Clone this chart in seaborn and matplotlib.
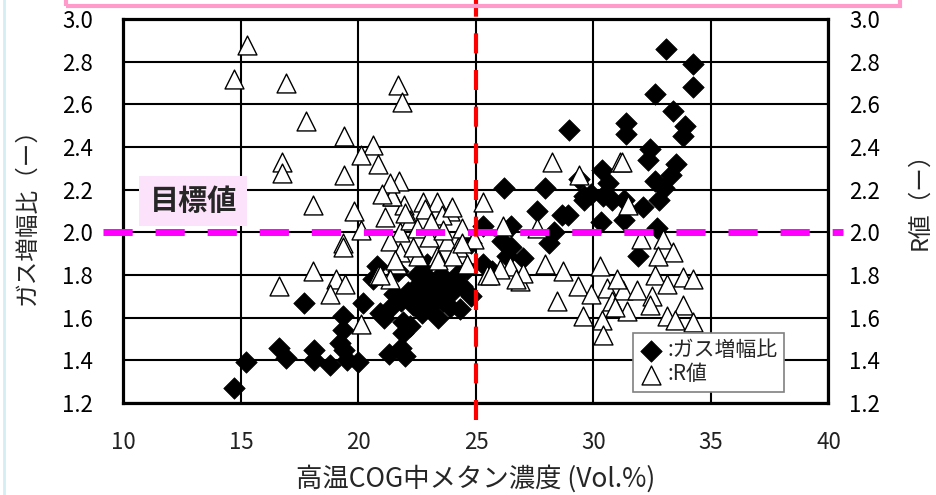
import matplotlib
matplotlib.use('Agg')
import matplotlib.pyplot as plt
import matplotlib.patches as mpatches
import matplotlib.lines as mlines
import seaborn as sns

# ガス増幅比 (black diamonds)
gas_x = [14.7, 15.2, 16.6, 16.9, 17.7, 18.1, 18.1, 18.8, 19.2, 19.4, 19.35, 19.35,
         19.5, 20.0, 20.2, 20.77, 20.6, 20.9, 21.3, 21.8, 21.9, 21.5, 21.4, 21.1,
         21.9, 22.0,
         21.8, 22.1, 22.3, 22.5, 22.7, 22.8, 23.0, 23.1, 23.3, 23.5, 23.6, 23.8,
         24.0, 24.2, 24.4, 24.6, 24.3, 23.4, 22.5, 21.7, 22.9, 24.8, 25.3, 25.3,
         24.8, 23.9, 22.2,
         26.1, 26.5, 26.3, 27.0, 26.2, 26.5, 27.6, 27.95, 28.1, 28.3, 28.65, 28.97,
         28.9, 29.4, 29.6, 29.6, 30.35, 30.6, 30.4, 30.8, 30.3, 31.3, 31.4, 31.4,
         31.9, 32.1, 32.4, 32.3, 32.6, 32.7, 32.8, 33.0, 33.3, 33.5, 33.4, 33.9,
         33.8, 33.1, 34.25, 34.25, 32.6, 31.3, 29.9, 25.7]
gas_y = [1.27, 1.39, 1.46, 1.41, 1.67, 1.45, 1.40, 1.38, 1.48, 1.45, 1.54, 1.61,
         1.40, 1.39, 1.67, 1.84, 1.78, 1.62, 1.43, 1.46, 1.53, 1.71, 1.65, 1.60,
         1.58, 1.42,
         1.68, 1.72, 1.66, 1.75, 1.62, 1.70, 1.78, 1.66, 1.73, 1.80, 1.68, 1.76,
         1.72, 1.80, 1.75, 1.83, 1.64, 1.60, 1.80, 1.82, 1.85, 1.95, 2.03, 1.85,
         1.70, 1.65, 1.56,
         1.96, 1.93, 1.89, 1.88, 2.21, 2.03, 2.10, 2.21, 1.95, 2.00, 2.08, 2.48,
         2.08, 2.25, 2.17, 2.15, 2.29, 2.23, 2.17, 2.15, 2.05, 2.06, 2.51, 2.46,
         1.89, 2.12, 2.39, 2.34, 2.24, 2.02, 2.15, 2.21, 2.27, 2.32, 2.57, 2.50,
         2.45, 2.86, 2.79, 2.68, 2.65, 2.15, 2.18, 1.82]

# R値 (open triangles)
r_x = [15.24, 14.72, 16.91, 21.67, 21.87, 17.75, 19.40, 20.63, 20.11, 20.82, 16.73, 16.73,
       19.40, 21.74, 18.08, 19.82, 21.43, 21.94, 22.76, 23.33, 21.13, 20.11, 21.77, 19.35,
       19.35, 21.34, 21.77, 22.55, 23.33, 21.63, 18.08, 20.82, 21.34, 16.62, 19.04, 19.43,
       18.79, 20.11,
       21.41, 22.83, 23.89, 25.31, 22.19, 23.54, 23.75, 24.25, 23.40, 24.03, 21.55, 20.91,
       24.60, 25.46, 21.34, 22.5, 23.0, 24.4, 22.3, 23.1, 24.0, 22.0, 21.0, 24.9,
       24.4, 23.6,
       28.22, 31.13, 29.40, 31.48, 26.16, 27.58, 27.94, 28.72, 26.45, 26.02, 25.60, 26.87,
       29.35, 28.43, 30.28, 30.56, 30.77, 31.27, 31.41, 29.57, 30.35, 30.42, 31.84, 31.20,
       32.04, 32.97, 33.40, 32.76, 32.62, 33.11, 33.82, 34.25, 32.48, 32.40, 33.82, 33.11,
       33.47, 34.25, 30.9, 31.0, 29.9, 27.0, 26.7]
r_y = [2.88, 2.72, 2.70, 2.69, 2.61, 2.52, 2.45, 2.41, 2.36, 2.32, 2.33, 2.28,
       2.27, 2.24, 2.13, 2.10, 2.17, 2.13, 2.14, 2.14, 2.07, 2.01, 2.00, 1.95,
       1.93, 1.96, 1.91, 1.89, 1.89, 1.85, 1.82, 1.80, 1.78, 1.75, 1.78, 1.76,
       1.71, 1.57,
       2.17, 2.11, 2.10, 2.14, 2.06, 2.08, 1.96, 1.93, 1.87, 1.89, 1.87, 1.80,
       1.85, 1.80, 2.23, 2.02, 1.98, 2.02, 1.93, 2.05, 2.12, 2.09, 2.18, 1.97,
       1.95, 2.01,
       2.33, 2.33, 2.27, 2.13, 2.03, 2.02, 1.85, 1.82, 1.84, 1.83, 1.80, 1.77,
       1.75, 1.68, 1.84, 1.74, 1.68, 1.73, 1.63, 1.61, 1.59, 1.52, 1.73, 2.33,
       1.97, 1.97, 1.91, 1.89, 1.80, 1.76, 1.79, 1.78, 1.70, 1.66, 1.66, 1.61,
       1.59, 1.58, 1.65, 1.78, 1.71, 1.81, 1.78]

x_ticks = [10, 15, 20, 25, 30, 35, 40]
y_ticks = [1.2, 1.4, 1.6, 1.8, 2.0, 2.2, 2.4, 2.6, 2.8, 3.0]
target = 2.0      # 目標値
boundary = 25     # vertical red line

sns.set_theme(style='white')
plt.rcParams['font.family'] = ['Noto Sans CJK JP', 'DejaVu Sans']

fig = plt.figure(figsize=(9.36, 4.95), dpi=100)
ax = fig.add_axes([0.1319, 0.1859, 0.7532, 0.7758])

sns.scatterplot(x=gas_x, y=gas_y, marker='D', s=120, color='black',
                edgecolor='black', linewidth=0.5, label=':ガス増幅比', ax=ax, zorder=3)
sns.scatterplot(x=r_x, y=r_y, marker='^', s=185, color='white',
                edgecolor='black', linewidth=1.0, label=':R値', ax=ax, zorder=4)

ax.set_xlim(10, 40)
ax.set_ylim(1.2, 3.0)
ax.set_xticks(x_ticks)
ax.set_yticks(y_ticks)
ax.set_yticklabels([f'{v:.1f}' for v in y_ticks])
ax.grid(True, color='black', lw=1.5)
ax.set_axisbelow(True)
for sp in ax.spines.values():
    sp.set_color('black')
    sp.set_linewidth(2.3)
ax.tick_params(axis='y', length=0, pad=22, labelsize=16, labelcolor='black')
ax.tick_params(axis='x', length=0, pad=20, labelsize=16, labelcolor='#222222')

# reference lines
ax.axhline(target, xmin=-0.029, xmax=1.02, color='#FF00FF', lw=5,
           dashes=(4.2, 3.3), clip_on=False, zorder=5)
ax.axvline(boundary, ymin=-0.045, ymax=1.05, color='#FF0000', lw=3,
           dashes=(4.8, 4.0), clip_on=False, zorder=6)

ax.text(0.099, 0.526, '目標値', transform=ax.transAxes, fontsize=21,
        fontweight='bold', ha='center', va='center', zorder=7,
        bbox=dict(boxstyle='square,pad=0.35', fc='#FCE2FA', ec='none'))

ax.set_xlabel('高温COG中メタン濃度 (Vol.%)', fontsize=19)
ax.xaxis.set_label_coords(0.5, -0.197)
ax.xaxis.label.set_va('center')
ax.set_ylabel('ガス増幅比（ー）', fontsize=17)
ax.yaxis.set_label_coords(-0.137, 0.5)
ax.yaxis.label.set_va('center')

leg = ax.legend(loc='upper left', bbox_to_anchor=(0.7227, 0.182), borderaxespad=0,
                frameon=True, fancybox=False, edgecolor='#808080', framealpha=1,
                fontsize=15, handletextpad=0.25, handlelength=1.1, borderpad=0.3,
                labelspacing=0.1, markerscale=1.0)
leg.get_frame().set_linewidth(1.2)
leg.set_zorder(10)

ax2 = ax.twinx()
ax2.set_ylim(1.2, 3.0)
ax2.set_yticks(y_ticks)
ax2.set_yticklabels([f'{v:.1f}' for v in y_ticks])
ax2.tick_params(axis='y', length=0, pad=15, labelsize=16, labelcolor='black')
for sp in ax2.spines.values():
    sp.set_visible(False)
ax2.set_ylabel('R値（ー）', fontsize=17, rotation=90)
ax2.yaxis.set_label_coords(1.13, 0.542)
ax2.yaxis.label.set_va('center')

# frame decorations from the slide
fig.add_artist(mpatches.Rectangle((66 / 936, 1 - 6 / 495), (900 - 66) / 936, 20 / 495,
                                  transform=fig.transFigure, fill=False,
                                  edgecolor='#FF9ACB', lw=3))
fig.add_artist(mlines.Line2D([4 / 936, 4 / 936], [0, 1], transform=fig.transFigure,
                             color='#D5EEF3', lw=2))

fig.savefig('out.png', dpi=100)
